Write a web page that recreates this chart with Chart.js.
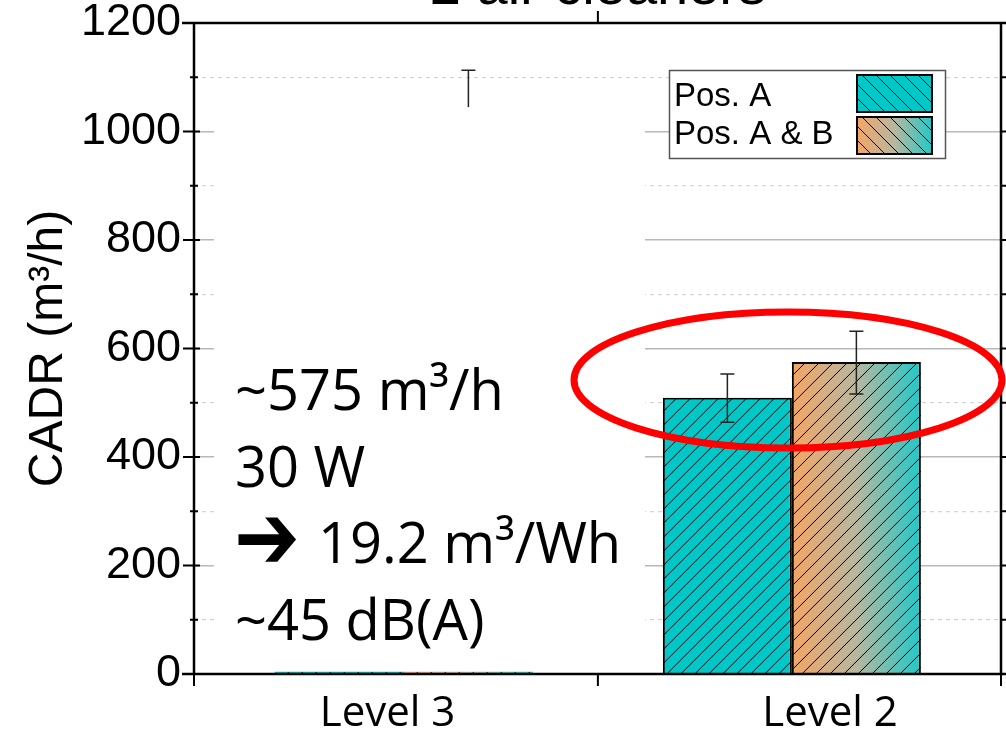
<!DOCTYPE html>
<html>
<head>
<meta charset="utf-8">
<script src="https://cdn.jsdelivr.net/npm/chart.js@4.4.1/dist/chart.umd.min.js"></script>
<style>
  html, body { margin: 0; padding: 0; background: #fff; }
</style>
</head>
<body>
<canvas id="cadrChart" width="1006" height="734"></canvas>
<script>
  // categories and series
  const levels = ['Level 3', 'Level 2'];
  const posA = [4, 509];
  const posAB = [4, 575];
  // error bar ends per level (null = no error bar)
  const posALow = [null, 464];
  const posAHigh = [null, 553];
  const posABLow = [1030, 516];
  const posABHigh = [1113, 632];
  const yMax = 1200;
  const titleText = '2 air cleaners';
  const noteLines = ['~575 m³/h', '30 W', '\u2794 19.2 m³/Wh', '~45 dB(A)'];

  const teal = '#00c8c8';
  const orange = '#f2a664';

  function gradientFor(ctx, x0, x1) {
    const g = ctx.createLinearGradient(x0, 0, x1, 0);
    g.addColorStop(0, orange);
    g.addColorStop(0.5, '#b8b7a0');
    g.addColorStop(1, '#22c8c8');
    return g;
  }

  function hatch(ctx, left, top, right, bottom, dir) {
    ctx.save();
    ctx.beginPath();
    ctx.rect(left, top, right - left, bottom - top);
    ctx.clip();
    ctx.strokeStyle = '#000';
    ctx.lineWidth = 1;
    const h = bottom - top;
    ctx.beginPath();
    for (let k = left - h - 14; k < right + 14; k += 14) {
      if (dir > 0) { ctx.moveTo(k, bottom); ctx.lineTo(k + h, top); }
      else { ctx.moveTo(k, top); ctx.lineTo(k + h, bottom); }
    }
    ctx.stroke();
    ctx.restore();
  }

  // hatch lines over each bar
  const barHatch = {
    id: 'barHatch',
    afterDatasetDraw(chart, args) {
      args.meta.data.forEach(bar => {
        const p = bar.getProps(['x', 'y', 'base', 'width'], true);
        hatch(chart.ctx, p.x - p.width / 2, Math.min(p.y, p.base), p.x + p.width / 2, Math.max(p.y, p.base), 1);
      });
    }
  };

  const errorBars = {
    id: 'errorBars',
    afterDatasetsDraw(chart) {
      const ctx = chart.ctx;
      const y = chart.scales.y;
      const lows = [posALow, posABLow];
      const highs = [posAHigh, posABHigh];
      ctx.save();
      ctx.strokeStyle = '#222';
      ctx.lineWidth = 1.5;
      chart.data.datasets.forEach((ds, di) => {
        chart.getDatasetMeta(di).data.forEach((bar, i) => {
          if (lows[di][i] == null) return;
          const x = bar.x;
          const y0 = y.getPixelForValue(lows[di][i]);
          const y1 = y.getPixelForValue(highs[di][i]);
          ctx.beginPath();
          ctx.moveTo(x, y0); ctx.lineTo(x, y1);
          ctx.moveTo(x - 7, y0); ctx.lineTo(x + 7, y0);
          ctx.moveTo(x - 7, y1); ctx.lineTo(x + 7, y1);
          ctx.stroke();
        });
      });
      ctx.restore();
    }
  };

  // white note box on the left, over the grid and error bars
  const noteBox = {
    id: 'noteBox',
    afterDatasetsDraw(chart) {
      const ctx = chart.ctx;
      const y = chart.scales.y;
      const top = y.getPixelForValue(1045);
      ctx.save();
      ctx.fillStyle = '#fff';
      ctx.fillRect(214, top, 431, y.getPixelForValue(0) - 4 - top);
      ctx.restore();
    }
  };

  const decorations = {
    id: 'decorations',
    afterDraw(chart) {
      const ctx = chart.ctx;
      const a = chart.chartArea;
      const y = chart.scales.y;
      const x = chart.scales.x;
      ctx.save();

      // frame and tick marks
      ctx.strokeStyle = '#000';
      ctx.lineWidth = 2.5;
      ctx.beginPath();
      ctx.moveTo(a.left, a.top); ctx.lineTo(a.left, a.bottom);
      ctx.moveTo(a.right, a.top); ctx.lineTo(a.right, a.bottom);
      ctx.moveTo(a.left - 12, a.top); ctx.lineTo(chart.width, a.top);
      ctx.moveTo(a.left - 12, a.bottom); ctx.lineTo(chart.width, a.bottom);
      ctx.stroke();
      ctx.lineWidth = 2;
      ctx.beginPath();
      for (let v = 0; v <= yMax; v += 100) {
        const py = y.getPixelForValue(v);
        if (v % 200 === 0) { ctx.moveTo(a.left - 11, py); ctx.lineTo(a.left + 6, py); }
        else { ctx.moveTo(a.left - 4, py); ctx.lineTo(a.left + 4, py); }
        ctx.moveTo(a.right, py); ctx.lineTo(chart.width, py);
      }
      const mid = (x.getPixelForValue(0) + x.getPixelForValue(1)) / 2;
      [a.left, mid, a.right].forEach(px => { ctx.moveTo(px, a.bottom); ctx.lineTo(px, a.bottom + 12); });
      ctx.moveTo(mid, a.top); ctx.lineTo(mid, a.top - 12);
      ctx.stroke();

      // title, mostly above the canvas
      ctx.fillStyle = '#000';
      ctx.font = '56px "Liberation Sans", Arial, sans-serif';
      ctx.textAlign = 'center';
      ctx.textBaseline = 'alphabetic';
      ctx.fillText(titleText, mid, 4);

      // note text
      ctx.textAlign = 'left';
      const baselines = [410, 487, 563, 640];
      noteLines.forEach((t, i) => {
        let tx = 235;
        if (t.startsWith('\u2794')) {
          // heavy arrow glyph, stretched to its box
          ctx.font = 'bold 60px "DejaVu Sans", sans-serif';
          const m = ctx.measureText('\u2794');
          const gw = m.actualBoundingBoxLeft + m.actualBoundingBoxRight;
          const gh = m.actualBoundingBoxAscent + m.actualBoundingBoxDescent;
          ctx.save();
          ctx.translate(238, 563);
          ctx.scale(59 / gw, 45 / gh);
          ctx.fillText('\u2794', m.actualBoundingBoxLeft, -m.actualBoundingBoxDescent);
          ctx.restore();
          tx = 318;
          t = t.slice(2);
        }
        ctx.font = '56px "Open Sans", sans-serif';
        ctx.fillText(t, tx, baselines[i]);
      });

      // highlight ellipse
      ctx.strokeStyle = '#ff0000';
      ctx.lineWidth = 7;
      ctx.beginPath();
      ctx.ellipse(788, 380, 214, 68, 0, 0, Math.PI * 2);
      ctx.stroke();

      // legend, swatch on the right of each label
      const lx = 669.5, ly = 70.5, lw = 276, lh = 88;
      ctx.fillStyle = '#fff';
      ctx.fillRect(lx, ly, lw, lh);
      ctx.strokeStyle = '#555';
      ctx.lineWidth = 1.5;
      ctx.strokeRect(lx, ly, lw, lh);
      ctx.font = '33px "Liberation Sans", Arial, sans-serif';
      chart.data.datasets.forEach((ds, i) => {
        const sy = 75 + i * 42;
        ctx.fillStyle = '#000';
        ctx.fillText(ds.label, 674, 106 + i * 38);
        ctx.fillStyle = i === 0 ? teal : gradientFor(ctx, 857, 932);
        ctx.fillRect(857, sy, 75, 37);
        hatch(ctx, 857, sy, 932, sy + 37, -1);
        ctx.strokeStyle = '#000';
        ctx.lineWidth = 2;
        ctx.strokeRect(857, sy, 75, 37);
      });
      ctx.restore();
    }
  };

  const chart = new Chart(document.getElementById('cadrChart'), {
    type: 'bar',
    data: {
      labels: levels,
      datasets: [{
        label: 'Pos. A',
        data: posA,
        backgroundColor: teal,
        borderColor: '#000',
        borderWidth: c => (c.raw < 20 ? 0 : 2)
      }, {
        label: 'Pos. A & B',
        data: posAB,
        backgroundColor: c => {
          const bar = c.chart.getDatasetMeta(c.datasetIndex).data[c.dataIndex];
          if (!bar || !isFinite(bar.x) || !isFinite(bar.width)) return orange;
          return gradientFor(c.chart.ctx, bar.x - bar.width / 2, bar.x + bar.width / 2);
        },
        borderColor: '#000',
        borderWidth: c => (c.raw < 20 ? 0 : 2)
      }]
    },
    options: {
      responsive: false,
      animation: false,
      layout: { padding: { top: 23, right: 5, left: 0, bottom: 0 } },
      plugins: { legend: { display: false }, tooltip: { enabled: false } },
      categoryPercentage: 0.665,
      barPercentage: 1,
      scales: {
        x: {
          grid: { display: false, drawTicks: false },
          border: { display: false },
          ticks: {
            color: '#000',
            padding: 15,
            font: { family: 'Open Sans', size: 42 },
            // labels sit a little off the bar centres
            callback: (v, i) => (i === 0 ? levels[i] + '   ' : '       ' + levels[i])
          },
          // categories a bit closer together than the default half-step margins
          afterBuildTicks: s => { s._startValue = -0.541; s._valueRange = 2.08; },
          afterFit: s => { s.height = 60; s.paddingLeft = 0; s.paddingRight = 0; }
        },
        y: {
          min: 0,
          max: yMax,
          grid: {
            drawTicks: false,
            color: c => (c.tick && c.tick.value % 200 === 0 ? '#b8b8b8' : '#d4d4d4'),
            lineWidth: c => (c.tick && c.tick.value % 200 === 0 ? 1.5 : 1.2)
          },
          border: {
            display: false,
            dash: c => (c.tick && c.tick.value % 200 !== 0 ? [4, 4] : [])
          },
          ticks: {
            stepSize: 100,
            autoSkip: false,
            padding: 13,
            color: '#000',
            font: { family: 'Liberation Sans', size: 45 },
            callback: v => (v % 200 === 0 ? v : '')
          },
          title: {
            display: true,
            text: 'CADR (m³/h)',
            color: '#000',
            padding: { top: 20, bottom: 0 },
            font: { family: 'Liberation Sans', size: 48 }
          },
          afterFit: s => { s.width = 194; s.paddingTop = 0; s.paddingBottom = 0; }
        }
      }
    },
    plugins: [barHatch, errorBars, noteBox, decorations]
  });
  // second pass so the gradient fill can use the laid-out bar positions
  chart.update('none');
</script>
</body>
</html>
